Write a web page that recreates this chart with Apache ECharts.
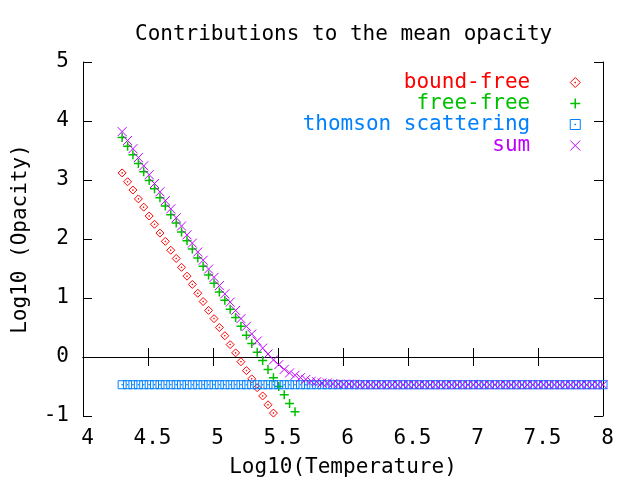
<!DOCTYPE html>
<html>
<head>
<meta charset="utf-8">
<script src="https://cdn.jsdelivr.net/npm/echarts@6/dist/echarts.min.js"></script>
<style>html,body{margin:0;padding:0;background:#fff}#c{width:640px;height:480px}</style>
</head>
<body>
<div id="c"></div>
<script>
// Log10(Temperature) sample points
var logT = [4.301,4.343,4.384,4.426,4.467,4.509,4.550,4.592,4.633,4.675,
  4.717,4.758,4.800,4.841,4.883,4.924,4.966,5.008,5.049,5.091,
  5.132,5.174,5.215,5.257,5.298,5.340,5.382,5.423,5.465,5.506,
  5.548,5.589,5.631,5.673,5.714,5.756,5.797,5.839,5.880,5.922,
  5.963,6.005,6.047,6.088,6.130,6.171,6.213,6.254,6.296,6.338,
  6.379,6.421,6.462,6.504,6.545,6.587,6.628,6.670,6.712,6.753,
  6.795,6.836,6.878,6.919,6.961,7.003,7.044,7.086,7.127,7.169,
  7.210,7.252,7.293,7.335,7.377,7.418,7.460,7.501,7.543,7.584,
  7.626,7.668,7.709,7.751,7.792,7.834,7.875,7.917,7.958,8.000];
// bound-free (visible points only, above -1)
var boundFree = [3.12,2.97,2.83,2.68,2.54,2.39,2.25,2.10,1.96,1.81,
  1.67,1.52,1.37,1.23,1.08,0.94,0.79,0.65,0.50,0.36,
  0.21,0.07,-0.08,-0.23,-0.37,-0.52,-0.66,-0.81,-0.95];
// free-free (visible points only)
var freeFree = [3.72,3.57,3.43,3.28,3.14,2.99,2.85,2.70,2.56,2.41,
  2.27,2.12,1.97,1.83,1.68,1.54,1.39,1.25,1.10,0.96,
  0.81,0.67,0.52,0.37,0.23,0.08,-0.06,-0.21,-0.35,-0.50,
  -0.64,-0.79,-0.93];
// thomson scattering
var thomson = [-0.47,-0.47,-0.47,-0.47,-0.47,-0.47,-0.47,-0.47,-0.47,-0.47,
  -0.47,-0.47,-0.47,-0.47,-0.47,-0.47,-0.47,-0.47,-0.47,-0.47,
  -0.47,-0.47,-0.47,-0.47,-0.47,-0.47,-0.47,-0.47,-0.47,-0.47,
  -0.47,-0.47,-0.47,-0.47,-0.47,-0.47,-0.47,-0.47,-0.47,-0.47,
  -0.47,-0.47,-0.47,-0.47,-0.47,-0.47,-0.47,-0.47,-0.47,-0.47,
  -0.47,-0.47,-0.47,-0.47,-0.47,-0.47,-0.47,-0.47,-0.47,-0.47,
  -0.47,-0.47,-0.47,-0.47,-0.47,-0.47,-0.47,-0.47,-0.47,-0.47,
  -0.47,-0.47,-0.47,-0.47,-0.47,-0.47,-0.47,-0.47,-0.47,-0.47,
  -0.47,-0.47,-0.47,-0.47,-0.47,-0.47,-0.47,-0.47,-0.47,-0.47];
// sum
var sumOp = [3.82,3.67,3.53,3.38,3.24,3.09,2.94,2.80,2.65,2.51,
  2.36,2.22,2.07,1.93,1.78,1.64,1.49,1.35,1.21,1.07,
  0.93,0.79,0.65,0.52,0.39,0.27,0.15,0.05,-0.05,-0.13,
  -0.21,-0.27,-0.31,-0.35,-0.38,-0.41,-0.42,-0.44,-0.44,-0.45,
  -0.46,-0.46,-0.46,-0.46,-0.47,-0.47,-0.47,-0.47,-0.47,-0.47,
  -0.47,-0.47,-0.47,-0.47,-0.47,-0.47,-0.47,-0.47,-0.47,-0.47,
  -0.47,-0.47,-0.47,-0.47,-0.47,-0.47,-0.47,-0.47,-0.47,-0.47,
  -0.47,-0.47,-0.47,-0.47,-0.47,-0.47,-0.47,-0.47,-0.47,-0.47,
  -0.47,-0.47,-0.47,-0.47,-0.47,-0.47,-0.47,-0.47,-0.47,-0.47];
var seriesNames = ['bound-free','free-free','thomson scattering','sum'];
var xTicks = [4,4.5,5,5.5,6,6.5,7,7.5,8];
var yTicks = [-1,0,1,2,3,4,5];

var FONT = 'DejaVu Sans Mono';
var colors = ['#ff0000','#00c000','#0080ff','#c000ff'];
var symbols = [
  'path://M5,0L10,5L5,10L0,5Z M4.6,4.6L5.4,4.6L5.4,5.4L4.6,5.4Z',
  'path://M0,5L10,5M5,0L5,10',
  'path://M0,0L10,0L10,10L0,10Z M4.6,4.6L5.4,4.6L5.4,5.4L4.6,5.4Z',
  'path://M0,0L10,10M0,10L10,0'
];
var sizes = [8,9,8,9];
var widths = [1,1.5,1,1];
var values = [boundFree, freeFree, thomson, sumOp];

function pairs(v){ return v.map(function(y,i){ return [logT[i], y]; }); }

var chart = echarts.init(document.getElementById('c'), null, {renderer:'canvas'});
var axisCommon = {
  axisLine:{show:true,lineStyle:{color:'#000',width:1}},
  axisTick:{show:true,inside:true,length:9,lineStyle:{color:'#000',width:1}},
  splitLine:{show:false}
};
chart.setOption({
  animation:false,
  backgroundColor:'#fff',
  title:{text:'Contributions to the mean opacity',left:130,top:19,
    textStyle:{fontFamily:FONT,fontSize:21,fontWeight:'normal',color:'#000'}},
  legend:{
    orient:'vertical', align:'right', right:54, top:67, itemGap:0,
    itemWidth:80, itemHeight:10, selectedMode:false,
    textStyle:{fontFamily:FONT,fontSize:21},
    data: seriesNames.map(function(n,i){
      return {name:n, icon:symbols[i], textStyle:{color:colors[i]},
        itemStyle:{color:'transparent',borderColor:colors[i],borderWidth:widths[i]}};
    })
  },
  grid:{left:83,right:37,top:62,bottom:64,containLabel:false,outerBoundsMode:'none'},
  xAxis:[
    Object.assign({type:'value',min:xTicks[0],max:xTicks[xTicks.length-1],interval:0.5,position:'bottom',
      name:'Log10(Temperature)',nameLocation:'middle',nameGap:41,
      nameTextStyle:{fontFamily:FONT,fontSize:21,color:'#000',padding:[0,0,0,0]},
      axisLabel:{fontFamily:FONT,fontSize:21,color:'#000',margin:12,padding:[0,0,0,9]}}, axisCommon),
    Object.assign({type:'value',min:xTicks[0],max:xTicks[xTicks.length-1],interval:0.5,position:'top',
      axisLabel:{show:false}}, axisCommon)
  ],
  yAxis:[
    Object.assign({type:'value',min:yTicks[0],max:yTicks[yTicks.length-1],interval:1,position:'left',
      name:'Log10 (Opacity)',nameLocation:'middle',nameGap:52,nameRotate:90,
      nameTextStyle:{fontFamily:FONT,fontSize:21,color:'#000'},
      axisLabel:{fontFamily:FONT,fontSize:21,color:'#000',margin:14}}, axisCommon),
    Object.assign({type:'value',min:yTicks[0],max:yTicks[yTicks.length-1],interval:1,position:'right',
      axisLabel:{show:false}}, axisCommon)
  ],
  series: seriesNames.map(function(n,i){
    return {
      name:n, type:'scatter', xAxisIndex:0, yAxisIndex:0,
      symbol:symbols[i], symbolSize:sizes[i], symbolKeepAspect:true,
      itemStyle:{color:'transparent',borderColor:colors[i],borderWidth:widths[i],opacity:1},
      emphasis:{disabled:true}, silent:true,
      data:pairs(values[i])
    };
  })
});
</script>
</body>
</html>
